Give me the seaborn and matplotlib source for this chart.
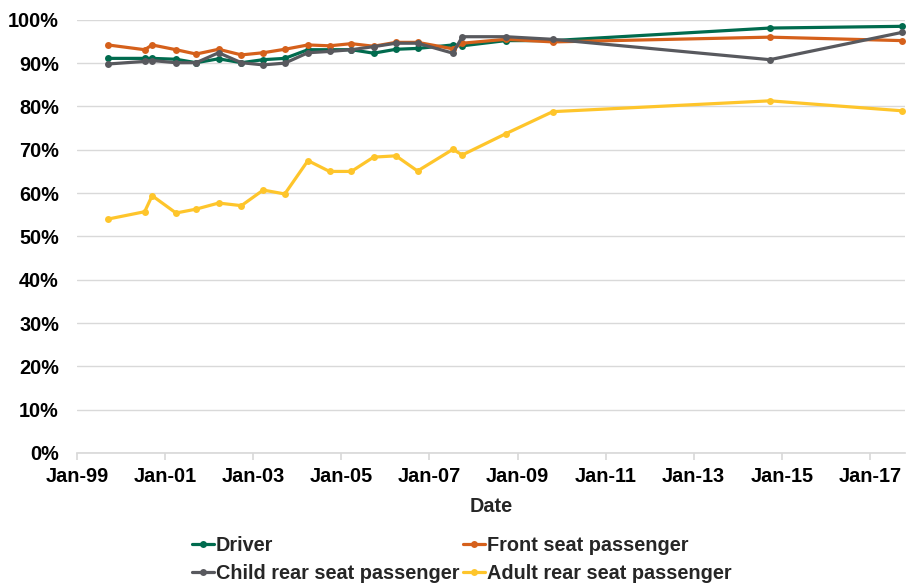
import matplotlib.pyplot as plt
import pandas as pd
import seaborn as sns

dates = ["1999-09-15", "2000-07-15", "2000-09-15", "2001-04-01", "2001-09-15",
         "2002-03-20", "2002-09-25", "2003-03-25", "2003-09-20", "2004-03-30",
         "2004-09-25", "2005-03-25", "2005-09-25", "2006-03-30", "2006-09-25",
         "2007-07-15", "2007-10-01", "2008-09-25", "2009-10-20", "2014-09-25",
         "2017-09-25"]

driver = [91.1, 91.1, 91.1, 90.9, 90.1, 91.0, 90.1, 90.8, 91.1, 93.1, 93.1,
          93.1, 92.3, 93.2, 93.4, 94.2, 94.0, 95.2, 95.2, 98.1, 98.5]
front = [94.2, 93.1, 94.2, 93.1, 92.1, 93.2, 91.9, 92.4, 93.2, 94.2, 94.0,
         94.5, 93.9, 94.8, 94.8, 93.3, 94.6, 95.5, 94.9, 96.0, 95.2]
child = [89.8, 90.4, 90.6, 90.1, 90.1, 92.4, 90.1, 89.6, 90.0, 92.4, 92.7,
         93.1, 93.8, 94.6, 94.6, 92.3, 96.1, 96.1, 95.5, 90.8, 97.1]
adult = [54.0, 55.7, 59.4, 55.4, 56.3, 57.7, 57.1, 60.7, 59.8, 67.5, 65.0,
         65.0, 68.3, 68.6, 65.1, 70.1, 68.8, 73.7, 78.8, 81.3, 79.0]

series = ["Driver", "Front seat passenger", "Child rear seat passenger",
          "Adult rear seat passenger"]
colors = ["#006b4e", "#d5601b", "#58595e", "#fec52b"]

x_ticks = ["1999-01-01", "2001-01-01", "2003-01-01", "2005-01-01", "2007-01-01",
           "2009-01-01", "2011-01-01", "2013-01-01", "2015-01-01", "2017-01-01"]
x_labels = ["Jan-99", "Jan-01", "Jan-03", "Jan-05", "Jan-07",
            "Jan-09", "Jan-11", "Jan-13", "Jan-15", "Jan-17"]
y_ticks = [0, 10, 20, 30, 40, 50, 60, 70, 80, 90, 100]
y_labels = ["0%", "10%", "20%", "30%", "40%", "50%", "60%", "70%", "80%", "90%", "100%"]

frames = []
for name, vals in zip(series, [driver, front, child, adult]):
    frames.append(pd.DataFrame({"Date": pd.to_datetime(dates), "Rate": vals, "Series": name}))
df = pd.concat(frames, ignore_index=True)

sns.set_theme(style="white")
plt.rcParams["font.family"] = ["Liberation Sans", "DejaVu Sans"]
plt.rcParams["font.weight"] = "bold"

fig = plt.figure(figsize=(9.06, 5.83), dpi=100)
ax = fig.add_axes([0.085, 0.223, 0.914, 0.743])

sns.lineplot(data=df, x="Date", y="Rate", hue="Series", hue_order=series,
             palette=colors, marker="o", markersize=5, markeredgewidth=0,
             linewidth=2.3, ax=ax, legend=True)

ax.set_ylim(0, 100)
ax.set_xlim(pd.Timestamp("1999-01-01"), pd.Timestamp("2017-10-20"))
ax.set_yticks(y_ticks)
ax.set_yticklabels(y_labels, fontsize=14.3, fontweight="bold")
ax.set_xticks(pd.to_datetime(x_ticks))
ax.set_xticklabels(x_labels, fontsize=14.3, fontweight="bold")
ax.set_xlabel("Date", fontsize=14.3, fontweight="bold", labelpad=8)
ax.set_ylabel("")

ax.yaxis.grid(True, color="#d9d9d9", linewidth=1)
ax.set_axisbelow(True)
for s in ["top", "right", "left"]:
    ax.spines[s].set_visible(False)
ax.spines["bottom"].set_color("#d9d9d9")
ax.tick_params(axis="x", bottom=True, length=5, color="#d9d9d9", pad=5, labelcolor="black")
ax.tick_params(axis="y", left=False, pad=7, labelcolor="black")

# legend fills row by row in the reference, matplotlib fills by column
handles, labels = ax.get_legend_handles_labels()
ax.get_legend().remove()
order = [0, 2, 1, 3]
fig.legend([handles[i] for i in order], [labels[i] for i in order],
           loc="center", bbox_to_anchor=(0.51, 0.041), ncol=2,
           frameon=False, fontsize=14.3, handlelength=1.1, handletextpad=0.1,
           columnspacing=0.2, labelspacing=0.45, borderaxespad=0)

fig.savefig("out.png", dpi=100)
